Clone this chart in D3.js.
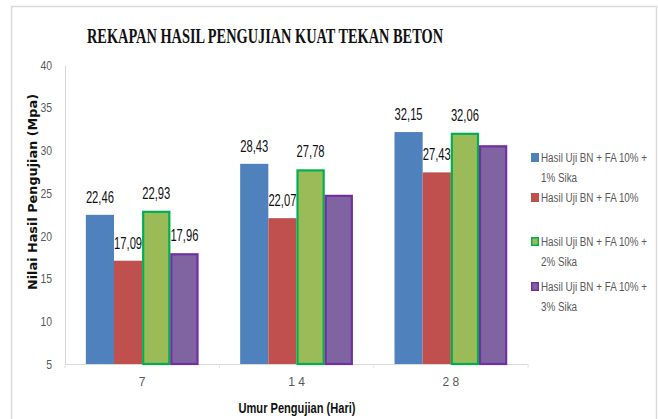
<!DOCTYPE html>
<html>
<head>
<meta charset="utf-8">
<script src="https://cdn.jsdelivr.net/npm/d3@7"></script>
<style>
  body { margin: 0; background: #fff; }
  text { font-family: "Liberation Sans", Arial, sans-serif; }
</style>
</head>
<body>
<div id="chart"></div>
<script>
// Chart Data
const categories = ["7", "14", "28"];
const tickLabels = ["7", "1 4", "2 8"];
const seriesNames = [
  ["Hasil Uji BN + FA 10% +", "1% Sika"],
  ["Hasil Uji BN + FA 10%"],
  ["Hasil Uji BN + FA 10% +", "2% Sika"],
  ["Hasil Uji BN + FA 10% +", "3% Sika"]
];
const sika1 = [22.46, 28.43, 32.15];
const sika0 = [17.09, 22.07, 27.43];
const sika2 = [22.93, 27.78, 32.06];
const sika3 = [17.96, 24.8, 30.6];
const showLabel = [[true, true, true], [true, true, true], [true, true, true], [true, false, false]];
const yTicks = [5, 10, 15, 20, 25, 30, 35, 40];

// Styles
const fills = ["#4F81BD", "#C0504D", "#9BBB59", "#8064A2"];
const strokes = [null, null, "#00B050", "#7030A0"];

const W = 658, H = 419;
const svg = d3.select("#chart").append("svg").attr("width", W).attr("height", H);

// Squeeze text horizontally to mimic a narrow font
function condense(sel, k) {
  sel.each(function() {
    const len = this.getComputedTextLength();
    d3.select(this).attr("textLength", len * k).attr("lengthAdjust", "spacingAndGlyphs");
  });
}

// Outer Frame
svg.append("rect").attr("x", 11.5).attr("y", 6.5).attr("width", 645).attr("height", 430)
  .attr("fill", "none").attr("stroke", "#d9d9d9").attr("stroke-width", 1.5);

// Scales
const plot = { left: 65, right: 528, top: 65, bottom: 364 };
const x0 = d3.scaleBand().domain(categories).range([plot.left, plot.right]).paddingInner(0.27).paddingOuter(0.135);
const x1 = d3.scaleBand().domain(d3.range(4)).range([0, x0.bandwidth()]);
const y = d3.scaleLinear().domain([5, 40]).range([plot.bottom, plot.top]);

const series = [sika1, sika0, sika2, sika3];

// Title
svg.append("text").attr("x", 265).attr("y", 43).attr("text-anchor", "middle")
  .attr("textLength", 356).attr("lengthAdjust", "spacingAndGlyphs")
  .style("font-family", "'Liberation Serif', 'DejaVu Serif', serif")
  .style("font-weight", "bold").style("font-size", "21px").attr("fill", "#111")
  .text("REKAPAN HASIL PENGUJIAN KUAT TEKAN BETON");

// Y Axis
const yAxis = svg.append("g").attr("transform", `translate(${plot.left},0)`)
  .call(d3.axisLeft(y).tickValues(yTicks).tickSize(0).tickPadding(13));
yAxis.select(".domain").attr("stroke", "#d9d9d9");
yAxis.selectAll("text").style("font-size", "13px").attr("fill", "#595959")
  .style("font-family", "'Liberation Sans', sans-serif").call(condense, 0.8);

// X Axis
const xAxis = svg.append("g").attr("transform", `translate(0,${plot.bottom})`)
  .call(d3.axisBottom(x0).tickSize(0).tickPadding(13).tickFormat((d, i) => tickLabels[i]));
xAxis.select(".domain").attr("stroke", "#d9d9d9");
xAxis.selectAll("text").style("font-size", "12px").attr("fill", "#595959");
// Faint tick marks at group boundaries
const step = x0.step();
svg.append("g").selectAll("line").data(d3.range(categories.length + 1)).enter().append("line")
  .attr("x1", i => plot.left + i * step).attr("x2", i => plot.left + i * step)
  .attr("y1", plot.bottom).attr("y2", plot.bottom + 4).attr("stroke", "#e4e4e4");

// Bars
series.forEach((vals, s) => {
  const pad = strokes[s] ? 1 : 0;
  const rows = vals.map((v, i) => ({ v: v, cat: categories[i], show: showLabel[s][i] }));
  const g = svg.append("g");
  g.selectAll("rect").data(rows).enter().append("rect")
    .attr("x", d => x0(d.cat) + x1(s) + pad)
    .attr("y", d => y(d.v) + pad)
    .attr("width", x1.bandwidth() - 2 * pad)
    .attr("height", d => y(5) - y(d.v) - pad)
    .attr("fill", fills[s])
    .attr("stroke", strokes[s] || "none").attr("stroke-width", 2.2);
  // Data Labels
  g.selectAll("text").data(rows.filter(d => d.show)).enter().append("text")
    .attr("x", d => x0(d.cat) + x1(s) + x1.bandwidth() / 2)
    .attr("y", d => y(d.v) - 12)
    .attr("text-anchor", "middle").style("font-size", "16px").attr("fill", "#111")
    .text(d => d.v.toFixed(2).replace(".", ","))
    .call(condense, 0.7);
});

// Axis Titles
svg.append("text").attr("transform", "translate(37,192) rotate(-90)").attr("text-anchor", "middle")
  .style("font-family", "'DejaVu Sans', sans-serif").style("font-weight", "bold").style("font-size", "11.5px")
  .attr("textLength", 196).attr("lengthAdjust", "spacingAndGlyphs").attr("fill", "#111")
  .text("Nilai Hasil Pengujian  (Mpa)");
svg.append("text").attr("x", 297).attr("y", 413).attr("text-anchor", "middle")
  .style("font-weight", "bold").style("font-size", "15.5px").attr("fill", "#111")
  .attr("textLength", 117).attr("lengthAdjust", "spacingAndGlyphs")
  .text("Umur Pengujian (Hari)");

// Legend (narrow text via horizontal scale)
const legendY = [153, 193, 237, 282];
const legend = svg.append("g");
seriesNames.forEach((lines, s) => {
  legend.append("rect").attr("x", 531 + (strokes[s] ? 0.75 : 0)).attr("y", legendY[s] + (strokes[s] ? 0.75 : 0))
    .attr("width", strokes[s] ? 6.5 : 8).attr("height", strokes[s] ? 7.5 : 9)
    .attr("fill", fills[s]).attr("stroke", strokes[s] || "none").attr("stroke-width", 1.5);
  lines.forEach((t, j) => {
    legend.append("text")
      .attr("transform", `translate(541,${legendY[s] + 9 + j * 20}) scale(0.73,1)`)
      .style("font-size", "13.5px").attr("fill", "#595959").text(t);
  });
});
</script>
</body>
</html>
